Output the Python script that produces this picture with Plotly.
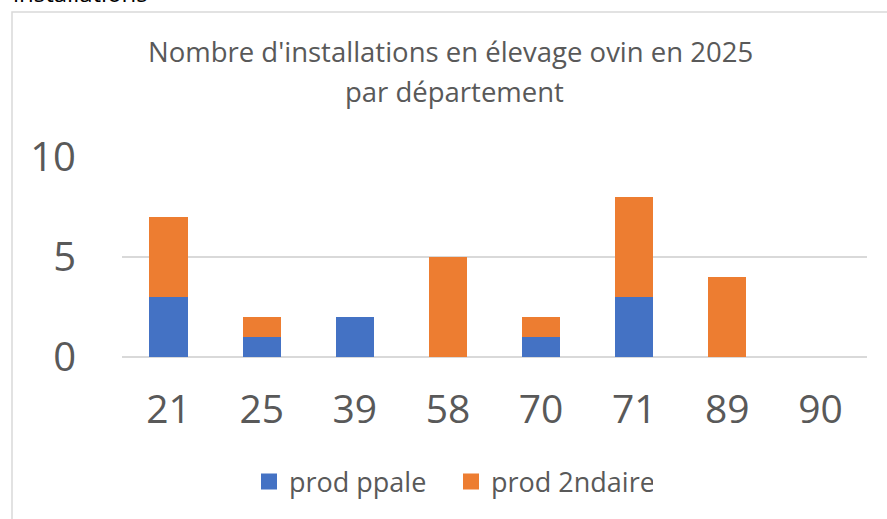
import plotly.graph_objects as go

departements = ["21", "25", "39", "58", "70", "71", "89", "90"]
prod_ppale = [3, 1, 2, 0, 1, 3, 0, 0]
prod_2ndaire = [4, 1, 0, 5, 1, 5, 4, 0]
y_ticks = [0, 5, 10]

BLUE = "#4472C4"
ORANGE = "#ED7D31"
TXT = "#595959"
GRID = "#D9D9D9"
FONT = "Open Sans"

W, H = 887, 519
L, R, T, B = 122, 20, 157, 162
pw, ph = W - L - R, H - T - B

def px(x):
    return (x - L) / pw

def py(y):
    return (H - B - y) / ph

fig = go.Figure()
fig.add_trace(go.Bar(x=departements, y=prod_ppale, name="prod ppale",
                     marker=dict(color=BLUE, line=dict(width=0)), showlegend=False))
fig.add_trace(go.Bar(x=departements, y=prod_2ndaire, name="prod 2ndaire",
                     marker=dict(color=ORANGE, line=dict(width=0)), showlegend=False))
# legend entries
for name, col in [("prod ppale", BLUE), ("prod 2ndaire", ORANGE)]:
    fig.add_trace(go.Scatter(x=[None], y=[None], mode="markers", name=name,
                             marker=dict(symbol="square", size=18, color=col)))

fig.update_layout(
    width=W, height=H,
    margin=dict(l=L, r=R, t=T, b=B),
    barmode="stack",
    bargap=0.59,
    plot_bgcolor="white", paper_bgcolor="white",
    font=dict(family=FONT, color=TXT),
    showlegend=True,
    legend=dict(orientation="h", x=px(249), xanchor="left", y=py(482), yanchor="middle",
                font=dict(size=27, color=TXT), itemsizing="trace", traceorder="normal",
                entrywidth=157, entrywidthmode="pixels"),
    xaxis=dict(tickfont=dict(size=39, color=TXT), showgrid=False, showline=False,
               ticklabelstandoff=26, zeroline=False),
    yaxis=dict(range=[0, 10], tickvals=y_ticks, tickfont=dict(size=40, color=TXT),
               showgrid=True, gridcolor=GRID, gridwidth=1.5, zeroline=True,
               zerolinecolor=GRID, zerolinewidth=1.5, showline=False,
               ticklabelstandoff=45),
    shapes=[dict(type="rect", xref="paper", yref="paper",
                 x0=px(12), x1=px(W + 20), y0=py(H + 20), y1=py(12),
                 line=dict(color=GRID, width=1.5), fillcolor="rgba(0,0,0,0)", layer="below")],
    annotations=[
        dict(text="Nombre d'installations en élevage ovin en 2025", xref="paper", yref="paper",
             x=px(450), y=py(62), xanchor="center", yanchor="bottom", showarrow=False,
             font=dict(size=27.5, color=TXT), yshift=-10),
        dict(text="par département", xref="paper", yref="paper",
             x=px(454), y=py(98), xanchor="center", yanchor="bottom", showarrow=False,
             font=dict(size=27.5, color=TXT), yshift=-14),
        dict(text="installations", xref="paper", yref="paper",
             x=px(11), y=py(11), xanchor="left", yanchor="bottom", showarrow=False,
             font=dict(size=24, color="#000000")),
    ],
)

fig.write_html("out.html", config={"displayModeBar": False},
               post_script="document.body.style.margin='0';")
